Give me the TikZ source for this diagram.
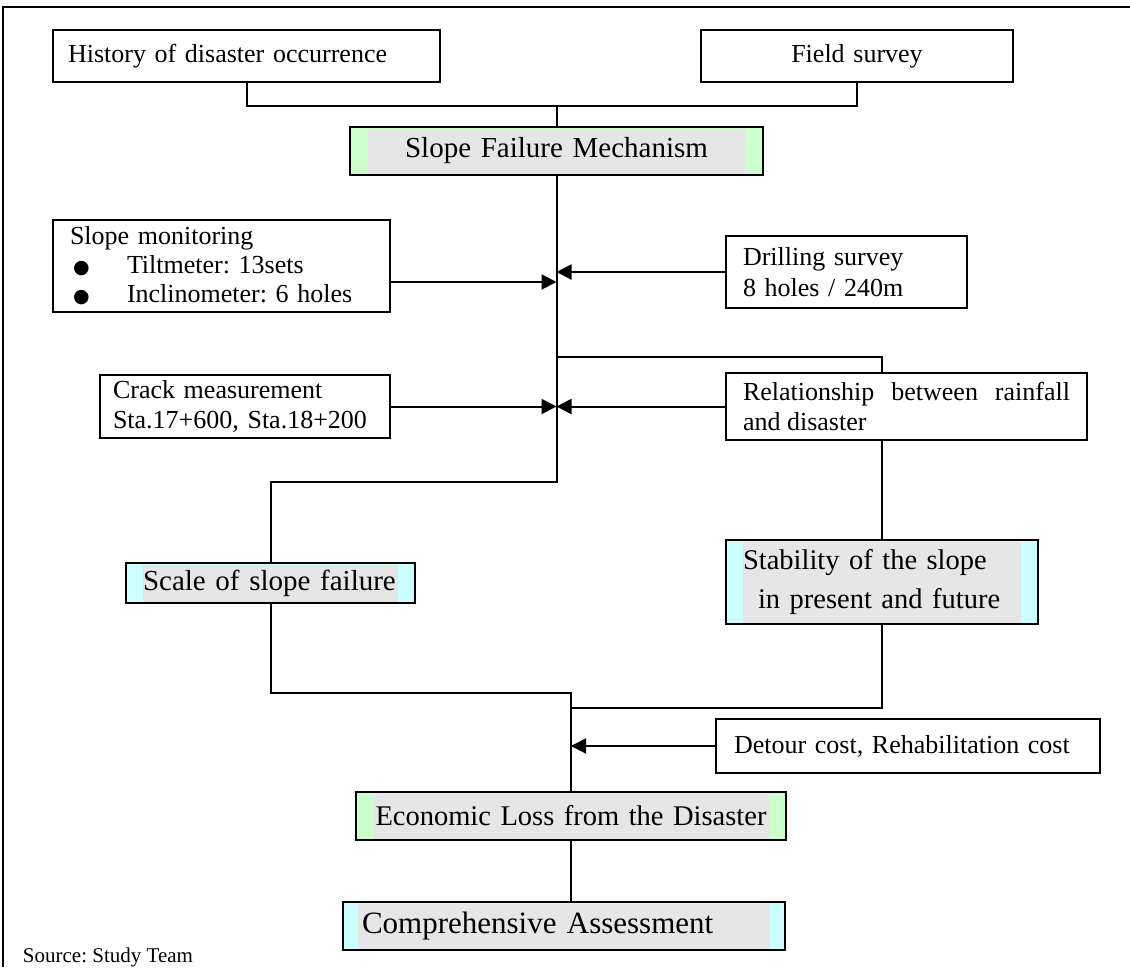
\documentclass[tikz,border=0pt]{standalone}
\usepackage{fontspec}
\setmainfont{Liberation Serif}
\newfontfamily\dejavu{DejaVu Sans}
\usetikzlibrary{arrows.meta}
\definecolor{grn}{HTML}{CCFFCC}
\definecolor{cyn}{HTML}{CCFFFF}
\definecolor{gry}{HTML}{E6E6E6}
\newcommand\fsz[2]{\fontsize{#1}{#2}\selectfont}
\newcommand\bul{\makebox[57pt][l]{\hspace*{3pt}{\dejavu\fsz{19}{19}●}}}
\begin{document}
\frenchspacing
\begin{tikzpicture}[x=1pt,y=-1pt,line width=2pt,
 conn/.style={line width=2pt},
 arr/.style={conn,-{Triangle[length=15pt,width=15pt]}},
 box/.style={draw,line width=2pt,fill=white,inner ysep=0pt,align=left,font=\fsz{26}{30}},
 bandbox/.style 2 args={box,fill=#1,path picture={\fill[gry] ([xshift=#2,yshift=-1.5pt]path picture bounding box.north west) rectangle ([xshift=-#2,yshift=1.5pt]path picture bounding box.south east);}},
]
\useasboundingbox (0,0) rectangle (1130,967);
% outer frame
\draw[conn] (3,967) -- (3,7) -- (1130,7);

% nodes
\node[box,inner xsep=15pt,text width=357pt,minimum height=52pt] (hist) at (246.5,56) {History of disaster occurrence};
\node[box,inner xsep=15pt,text width=282pt,minimum height=52pt,align=center] (field) at (857,56) {Field survey};
\node[bandbox={grn}{18pt},inner xsep=18pt,text width=377pt,minimum height=48pt,align=center,font=\fsz{29}{34}] (slope) at (556.5,151) {Slope Failure Mechanism};

\node[box,inner xsep=17pt,text width=303pt,minimum height=92pt,font=\fsz{26}{29}] (mon) at (221.5,266) {Slope monitoring\\\bul Tiltmeter: 13sets\\\bul Inclinometer: 6 holes};
\node[box,inner xsep=17pt,text width=207pt,minimum height=72pt,font=\fsz{26}{31}] (drill) at (846.5,272) {Drilling survey\\8 holes / 240m};
\node[box,inner xsep=17pt,text width=327pt,minimum height=67pt,align=justify,font=\fsz{26}{30}] (rel) at (906.5,406.5) {Relationship between rainfall and disaster};
\node[box,inner xsep=13pt,text width=264pt,minimum height=63pt,font=\fsz{26}{30}] (crack) at (245,406.5) {Crack measurement\\Sta.17+600, Sta.18+200};

\node[bandbox={cyn}{17pt},inner xsep=17pt,text width=255pt,minimum height=40pt,font=\fsz{29}{34}] (scale) at (270.5,583) {Scale of slope failure};
\node[bandbox={cyn}{17pt},inner xsep=17pt,text width=278pt,minimum height=84pt,font=\fsz{28.5}{39}] (stab) at (882,582) {Stability of the slope\\\hspace*{15pt}in present and future};

\node[box,inner xsep=18pt,text width=348pt,minimum height=54pt] (detour) at (908,746) {Detour cost, Rehabilitation cost};
\node[bandbox={grn}{17pt},inner xsep=17pt,text width=396pt,minimum height=48pt,align=center,font=\fsz{28.5}{34}] (econ) at (571,816) {Economic Loss from the Disaster};
\node[bandbox={cyn}{15pt},inner xsep=19pt,text width=404pt,minimum height=48pt,font=\fsz{31}{36}] (comp) at (564,926) {Comprehensive Assessment};

\node[anchor=base west,font=\fsz{21}{24},inner sep=0pt] (src) at (22,962) {Source: Study Team};

% junction coordinates
\coordinate (top) at (556.5,106);
\coordinate (br) at (556.5,357);
\coordinate (bend) at (556.5,482);
\coordinate (lj) at (571,693);
\coordinate (rj) at (571,708);

% connectors
\draw[conn] (hist.south) |- (top) -| (field.south);
\draw[conn] (top) -- (slope.north);
\draw[conn] (slope.south) -- (bend) -| (scale.north);
\draw[conn] (br) -| (rel.north -| stab.north);
\draw[conn] (rel.south -| stab.north) -- (stab.north);
\draw[arr] ([yshift=-16pt]mon.east) -- ([yshift=-16pt]mon.east -| slope.south);
\draw[arr] (drill.west) -- (drill.west -| slope.south);
\draw[arr] (crack.east) -- (crack.east -| slope.south);
\draw[arr] (rel.west) -- (rel.west -| slope.south);
\draw[conn] (scale.south) |- (lj) -- (econ.north);
\draw[conn] (stab.south) |- (rj);
\draw[arr] (detour.west) -- (detour.west -| econ.north);
\draw[conn] (econ.south) -- (econ.south |- comp.north);
\end{tikzpicture}
\end{document}
